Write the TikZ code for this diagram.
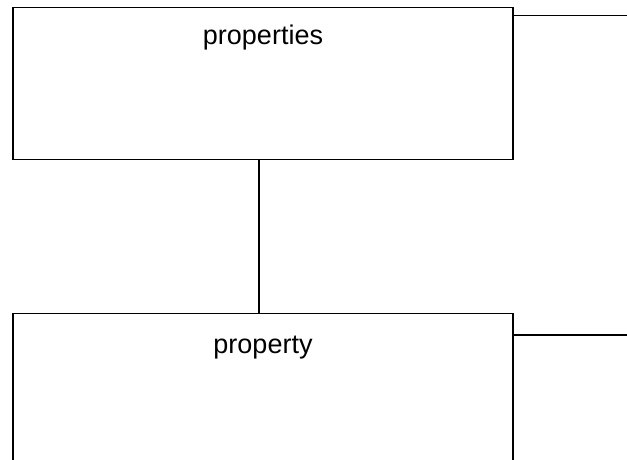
\documentclass[tikz,border=0pt]{standalone}
\usepackage{fontspec}
\setmainfont{Liberation Sans}
\begin{document}
\begin{tikzpicture}[x=1pt,y=-1pt,
  box/.style={draw=black, line width=1.6pt, rectangle, minimum width=500pt, inner sep=0pt},
  lbl/.style={font=\fontsize{27}{32}\selectfont, inner sep=0pt, anchor=base},
  conn/.style={draw=black, line width=1.6pt}]
\useasboundingbox (0,0) rectangle (627,460);
\clip (0,0) rectangle (627,460);
\node[box, minimum height=152pt] (props) at (263,83.5) {};
\node[box, minimum height=167pt] (prop) at (263,397) {};
\node[lbl] (tprops) at ([yshift=-37.5pt]props.north) {properties};
\node[lbl] (tprop) at ([yshift=-40.5pt]prop.north) {property};
\coordinate (e1) at (640,15.7);
\coordinate (e2) at (640,334.7);
\draw[conn] (props.south -| 259,0) -- (prop.north -| 259,0);
\draw[conn] (props.east |- e1) -- (e1);
\draw[conn] (prop.east |- e2) -- (e2);
\end{tikzpicture}
\end{document}
